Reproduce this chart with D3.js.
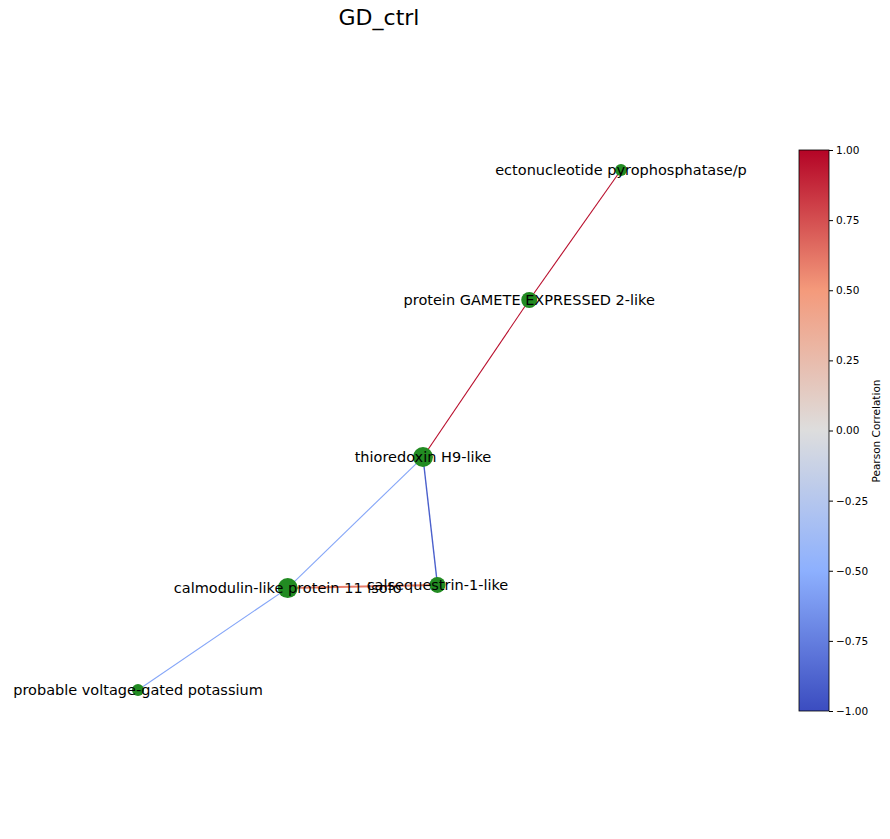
<!DOCTYPE html>
<html lang="en">
<head>
<meta charset="UTF-8">
<title>GD_ctrl</title>
<script src="https://d3js.org/d3.v7.min.js"></script>
<style>body{margin:0;background:#fff}</style>
</head>
<body>
<div id="chart"></div>
<script>
// layout coordinates of the nodes (network layout space)
const nodeNames = ["ectonucleotide pyrophosphatase/p", "protein GAMETE EXPRESSED 2-like", "thioredoxin H9-like",
                   "calmodulin-like protein 11 isofo", "calsequestrin-1-like", "probable voltage-gated potassium"];
const nodeX = [1.0, 0.62, 0.18, -0.38, 0.24, -1.0];
const nodeY = [1.0, 0.5, -0.104, -0.608, -0.596, -1.0];
const nodeSize = [6, 8, 10, 10, 8, 6];
const edgeSource = [0, 1, 2, 2, 3, 3];
const edgeTarget = [1, 2, 3, 4, 4, 5];
const edgeCorr = [0.97, 0.97, -0.55, -0.9, 0.6, -0.55];
const edgeWidth = [1.1, 1.1, 1.1, 1.4, 2, 1.1];
const cbTicks = [-1, -0.75, -0.5, -0.25, 0, 0.25, 0.5, 0.75, 1];

const W = 890, H = 839;
const svg = d3.select("#chart").append("svg").attr("width", W).attr("height", H)
    .style("font-family", "DejaVu Sans, sans-serif");

const x = d3.scaleLinear().domain([-1, 1]).range([138, 621]);
const y = d3.scaleLinear().domain([-1, 1]).range([690, 170]);

// coolwarm
const coolwarm = d3.scaleLinear()
    .domain([-1, -0.5, 0, 0.5, 1])
    .range(["#3b4cc0", "#8db0fe", "#dddddd", "#f49a7b", "#b40426"])
    .interpolate(d3.interpolateRgb);

svg.append("text").attr("x", 379).attr("y", 25).attr("text-anchor", "middle")
    .style("font-size", "22px").text("GD_ctrl");

svg.append("g").selectAll("line").data(edgeCorr).join("line")
    .attr("x1", (d, i) => x(nodeX[edgeSource[i]])).attr("y1", (d, i) => y(nodeY[edgeSource[i]]))
    .attr("x2", (d, i) => x(nodeX[edgeTarget[i]])).attr("y2", (d, i) => y(nodeY[edgeTarget[i]]))
    .attr("stroke", d => coolwarm(d)).attr("stroke-width", (d, i) => edgeWidth[i]);

svg.append("g").selectAll("circle").data(nodeNames).join("circle")
    .attr("cx", (d, i) => x(nodeX[i])).attr("cy", (d, i) => y(nodeY[i]))
    .attr("r", (d, i) => nodeSize[i]).attr("fill", "#228b22");

svg.append("g").selectAll("text").data(nodeNames).join("text")
    .attr("x", (d, i) => x(nodeX[i])).attr("y", (d, i) => y(nodeY[i]))
    .attr("dy", "0.35em").attr("text-anchor", "middle")
    .style("font-size", "14.5px").text(d => d);

// colorbar
const cbX = 799, cbW = 30;
const cb = d3.scaleLinear().domain([-1, 1]).range([711, 150]);
const grad = svg.append("defs").append("linearGradient").attr("id", "cw")
    .attr("x1", 0).attr("y1", 1).attr("x2", 0).attr("y2", 0);
d3.range(0, 1.0001, 0.05).forEach(t => grad.append("stop")
    .attr("offset", t).attr("stop-color", coolwarm(t * 2 - 1)));
svg.append("rect").attr("x", cbX).attr("y", 150).attr("width", cbW).attr("height", 561)
    .attr("fill", "url(#cw)").attr("stroke", "#000").attr("stroke-width", 0.8);
const ax = svg.append("g").attr("transform", `translate(${cbX + cbW},0)`)
    .call(d3.axisRight(cb).tickValues(cbTicks).tickFormat(d3.format(".2f")).tickSizeOuter(0).tickSize(4));
ax.select(".domain").remove();
ax.selectAll("text").style("font-size", "10.5px").style("font-family", "DejaVu Sans, sans-serif")
    .text(d => d3.format(".2f")(d).replace("-", "\u2212"));
svg.append("text").attr("transform", `translate(880,431) rotate(-90)`).attr("text-anchor", "middle")
    .style("font-size", "10.5px").text("Pearson Correlation");
</script>
</body>
</html>
